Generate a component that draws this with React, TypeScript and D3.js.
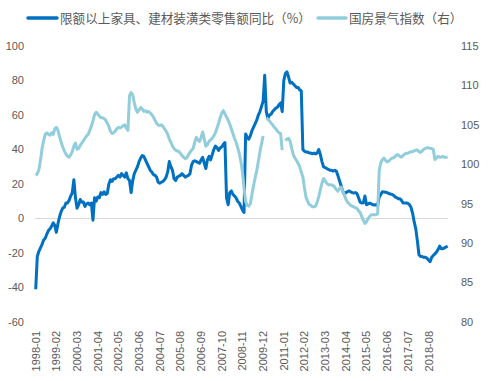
import React from "react";
import * as d3 from "d3";

const W = 490;
const H = 381;

// monthly categories 1998-01 .. 2019-08
const startYear = 1998;
const nMonths = 260;
const months: string[] = Array.from({ length: nMonths }, (_, i) => {
  const y = startYear + Math.floor(i / 12);
  const m = (i % 12) + 1;
  return `${y}-${m < 10 ? "0" + m : m}`;
});

const xTickLabels = [
  "1998-01", "1999-02", "2000-03", "2001-04", "2002-05", "2003-06", "2004-07",
  "2005-08", "2006-09", "2007-10", "2008-11", "2009-12", "2011-01", "2012-02",
  "2013-03", "2014-04", "2015-05", "2016-06", "2017-07", "2018-08",
];

const leftTicks = [-60, -40, -20, 0, 20, 40, 60, 80, 100];
const rightTicks = [80, 85, 90, 95, 100, 105, 110, 115];

const seriesNames = ["限额以上家具、建材装潢类零售额同比（%）", "国房景气指数（右）"];

// 限额以上家具、建材装潢类零售额同比 (%)
const retailYoY: number[] = [
  -41, -22, -19, -17, -15, -12.5, -11.5, -9, -7, -6,
  -4.5, -2.5, -4, -8, -3, 1, 4, 6, 6.5, 9,
  9, 10.5, 13, 15, 22.5, 12, 6, 8, 11, 9.5,
  9.5, 7, 8.5, 9, 8, 9, -1, 12, 10, 12.5,
  12, 15, 14, 15.5, 14, 14.5, 20, 22.5, 21.5, 23,
  23, 24, 25, 24, 26, 25, 24, 26.5, 23, 22,
  15, 22, 26, 28, 30, 33, 35, 36.5, 36, 34,
  32, 30, 28, 27, 25.5, 25, 24, 21, 20.5, 21,
  21.5, 22.5, 24, 27, 33, 30, 28, 23, 22, 24,
  24.5, 25, 26, 25, 24, 24.5, 25, 26, 31, 33,
  33.5, 33, 32.5, 32, 34, 35.5, 32, 29, 34, 36,
  34, 37, 40, 42, 41, 39.5, 41, 41.5, 43, 44,
  12, 8, 15, 16, 14, 13, 12, 10, 9, 7,
  5, 3.5, 49, 47, 46, 48, 51, 53, 55, 57,
  60, 62, 65, 68, 83, 62, 58, 60, 60.5, 62,
  63, 64, 64.5, 66, 67, 62, 80, 84, 85, 82,
  78.5, 79, 78, 77, 76, 76, 74.5, 74, 40, 39,
  38.5, 38.5, 38, 38, 37.5, 38, 37.5, 38, 40, 37,
  33, 30, 29.5, 29, 28.5, 28, 28, 27.5, 28, 27.5,
  25, 22, 19, 16, 14, 15, 15.5, 16, 15.5, 15,
  14.8, 15, 14.5, 12, 9.5, 9, 9, 13, 8, 8.5,
  9, 8.5, 8, 7.8, 8, 7.5, 12.5, 14, 15.5, 15.4,
  15.2, 15, 14.5, 14.2, 14, 13.5, 12.5, 12, 11.5, 11.5,
  10.5, 9, 9, 9, 8.8, 8, 6.5, 3, -2, -6,
  -13, -21, -22, -22, -22.5, -22.5, -23, -24, -25, -22.5,
  -21.5, -20.5, -19.5, -18, -16, -17.5, -17.5, -17, -16.5, -16,
];

// 国房景气指数 (right axis)
const climateIndex: (number | null)[] = [
  98.6, 98.8, 99.3, 100.5, 102, 103, 103.8, 104, 103.8, 103.7,
  104, 103.8, 104.5, 104.7, 104.3, 103.5, 102.8, 102.2, 101.7, 101.3,
  101, 100.9, 101.2, 101.6, 102.3, 102.7, 101.9, 102, 102.4, 102.7,
  103, 103.3, 103.6, 103.8, 104.3, 104.8, 105.5, 106.3, 106.6, 106.4,
  106.1, 105.9, 105.9, 105.8, 105.6, 105.2, 104.8, 104.2, 103.9, 104,
  104.2, 104.5, 104.7, 104.6, 104.7, 104.9, 105, 104.6, 104.3, 108.7,
  109.1, 108.8, 107.8, 107, 106.6, 106.9, 107.2, 107, 106.7, 106.8,
  106.6, 106.7, 106.5, 106.3, 106, 105.6, 105.2, 105, 104.9, 105,
  104.8, 104.5, 104.2, 103.8, 103.2, 102.8, 102.3, 102, 101.8, 101.7,
  101.6, 101.4, 101.1, 100.9, 100.7, 100.8, 101.2, 101.5, 101.8, 102,
  102.8, 103.4, 103.1, 102.9, 103.4, 104.1, 103.2, 102.3, 102.5, 102.9,
  103.1, 103.3, 103.6, 104, 104.6, 105.2, 105.9, 106.5, 106.8, 106.4,
  106, 105.6, 105.1, 104.5, 103.9, 103.3, 102.8, 102.1, 101.4, 100.4,
  99, 97, 95.3, 94.8, 94.7, 95, 96.2, 97.3, 98.3, 99.2,
  100.4, 101.6, 102.6, 103.6, null, 105.9, 105.7, 105.5, 105.2, 105,
  104.7, 104.5, 104.2, 104, 103.9, 101.8, null, 103, 103.2, 103.3,
  102.9, 102, 101.2, 100.8, 100.5, 100.1, 99.7, 99, 98.4, 97,
  95.8, 95.3, 94.9, 94.8, 94.6, 94.6, 94.7, 95.2, 95.9, 96.8,
  97.6, 98.2, 97.9, 97.6, 97.4, 97.4, 97.4, 97.3, 97.1, 96.8,
  96.6, 96.9, 97.1, 96.6, 96.2, 95.6, 95.2, 95, 94.8, 94.7,
  94.6, 94.5, 94.4, 94.1, 93.9, 93.4, 92.9, 92.5, 92.7, 93.1,
  93.4, 93.6, 93.6, 93.6, 93.6, 93.7, 99.2, 100.2, 100.6, 100.8,
  100.5, 100.3, 100.4, 100.6, 100.8, 100.8, 101, 101.2, 101.2, 101,
  100.9, 101.1, 101.3, 101.4, 101.4, 101.5, 101.6, 101.6, 101.7, 101.8,
  101.8, 101.6, 101.5, 101.7, 101.9, 102, 102.1, 102.1, 102, 102,
  101.9, 100.6, 100.8, 101, 100.9, 100.9, 101, 100.9, 100.9, 100.9,
];

const BLUE = "#0070C0";
const LIGHT = "#92CDDC";
const TEXT = "#595959";

export default function App() {
  const x = d3.scalePoint<string>().domain(months).range([35.7, 447.6]);
  const yL = d3.scaleLinear().domain([-60, 100]).range([322, 46]);
  const yR = d3.scaleLinear().domain([80, 115]).range([322, 46]);

  const blueLine = d3
    .line<number>()
    .x((_, i) => x(months[i]) as number)
    .y((d) => yL(d));

  const lightLine = d3
    .line<number | null>()
    .defined((d) => d !== null)
    .x((_, i) => x(months[i]) as number)
    .y((d) => yR(d as number));

  const tickFont = "'Liberation Sans', Arial, sans-serif";
  const cjkFont = "'Noto Sans CJK SC', sans-serif";

  return (
    <svg
      width={W}
      height={H}
      style={{ position: "absolute", left: 0, top: 0, background: "#fff" }}
    >
      {/* zero line */}
      <line x1={35} x2={448} y1={yL(0)} y2={yL(0)} stroke="#d9d9d9" strokeWidth={1} />

      {/* left ticks */}
      {leftTicks.map((t) => (
        <text
          key={"l" + t}
          x={24}
          y={yL(t)}
          dy="0.35em"
          textAnchor="end"
          fontSize={11}
          fontFamily={tickFont}
          fill={TEXT}
        >
          {t}
        </text>
      ))}
      {/* right ticks */}
      {rightTicks.map((t) => (
        <text
          key={"r" + t}
          x={461}
          y={yR(t)}
          dy="0.35em"
          textAnchor="start"
          fontSize={11}
          fontFamily={tickFont}
          fill={TEXT}
        >
          {t}
        </text>
      ))}
      {/* x labels */}
      {xTickLabels.map((lab) => {
        const px = x(lab) as number;
        return (
          <text
            key={lab}
            transform={`translate(${px + 4},331) rotate(-90)`}
            textAnchor="end"
            fontSize={11}
            fontFamily={tickFont}
            fill={TEXT}
          >
            {lab}
          </text>
        );
      })}

      {/* series */}
      <path d={blueLine(retailYoY) || ""} fill="none" stroke={BLUE} strokeWidth={3} strokeLinejoin="round" />
      <path d={lightLine(climateIndex) || ""} fill="none" stroke={LIGHT} strokeWidth={3} strokeLinejoin="round" />

      {/* legend */}
      <line x1={28} x2={57} y1={18} y2={18} stroke={BLUE} strokeWidth={3.5} strokeLinecap="round" />
      <text x={60} y={18} dy="0.36em" fontSize={12.6} fontFamily={cjkFont} fill={TEXT}>
        {seriesNames[0]}
      </text>
      <line x1={318} x2={346} y1={18} y2={18} stroke={LIGHT} strokeWidth={3.5} strokeLinecap="round" />
      <text x={349} y={18} dy="0.36em" fontSize={12.6} fontFamily={cjkFont} fill={TEXT}>
        {seriesNames[1]}
      </text>
    </svg>
  );
}
